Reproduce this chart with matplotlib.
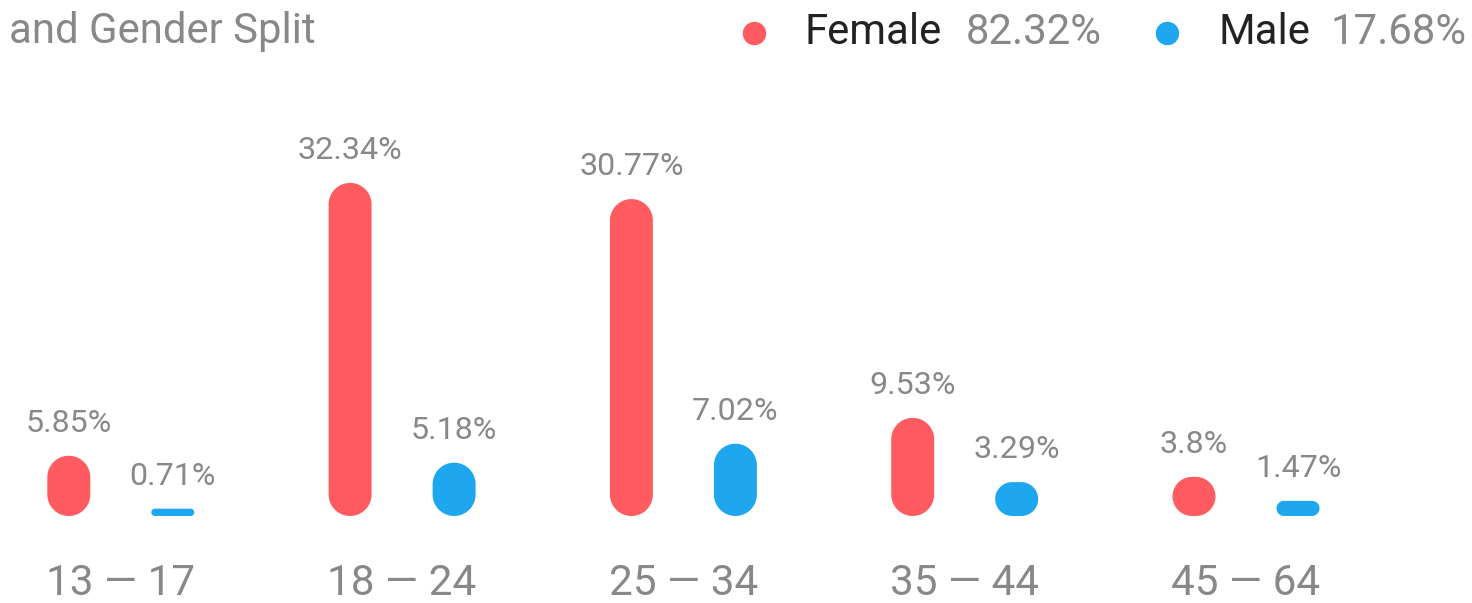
import matplotlib
matplotlib.use('Agg')
import matplotlib.pyplot as plt
from matplotlib.patches import Polygon
from matplotlib.lines import Line2D
import numpy as np

# ---- data ----
age_groups = ["13 \u2014 17", "18 \u2014 24", "25 \u2014 34", "35 \u2014 44", "45 \u2014 64"]
female = [5.85, 32.34, 30.77, 9.53, 3.8]
male = [0.71, 5.18, 7.02, 3.29, 1.47]
series_names = ["Female", "Male"]
series_totals = ["82.32%", "17.68%"]
title = "and Gender Split"

# ---- style ----
RED = "#FF5B60"
BLUE = "#1EA7EE"
GRAY = "#888888"
DARK = "#222222"

plt.rcParams['font.family'] = ['Roboto', 'DejaVu Sans']

W, H = 1472, 603
fig = plt.figure(figsize=(W / 100, H / 100), dpi=100)
fig.patch.set_facecolor("white")

# axes placement (pixel based)
px_per_unit = 281.3
first_center = 120.8
xlo, xhi = -0.4, 4.6
left_px = first_center + xlo * px_per_unit
width_px = (xhi - xlo) * px_per_unit
base_px = 516
ymax = 40
px_per_pct = 10.30
height_px = ymax * px_per_pct
ax = fig.add_axes([left_px / W, (H - base_px) / H, width_px / W, height_px / H])
ax.set_xlim(xlo, xhi)
ax.set_ylim(0, ymax)
ax.axis("off")

# pixel scale of data units (for true circular caps)
p0 = ax.transData.transform((0, 0))
p1 = ax.transData.transform((1, 1))
ppx = p1[0] - p0[0]
ppy = p1[1] - p0[1]

bar_w = 43 / px_per_unit
off = 52 / px_per_unit


def rbar(x, h, color):
    w_px = bar_w * ppx
    h_px = h * ppy
    r_px = min(w_px / 2, h_px / 2)
    rx = r_px / ppx
    ry = r_px / ppy
    t = np.linspace(0, np.pi / 2, 20)
    x0, x1 = x - bar_w / 2, x + bar_w / 2
    pts = []
    cx, cy = x1 - rx, ry
    pts += list(zip(cx + rx * np.sin(t), cy - ry * np.cos(t)))
    cx, cy = x1 - rx, h - ry
    pts += list(zip(cx + rx * np.cos(t), cy + ry * np.sin(t)))
    cx, cy = x0 + rx, h - ry
    pts += list(zip(cx - rx * np.sin(t), cy + ry * np.cos(t)))
    cx, cy = x0 + rx, ry
    pts += list(zip(cx - rx * np.cos(t), cy - ry * np.sin(t)))
    ax.add_patch(Polygon(pts, closed=True, fc=color, ec="none", antialiased=True))


for i, (f, m) in enumerate(zip(female, male)):
    for x, v, c in ((i - off, f, RED), (i + off, m, BLUE)):
        rbar(x, v, c)
        ax.annotate(f"{v:g}%", (x, v), xytext=(0, 24 * 0.72),
                    textcoords="offset points", ha="center", va="baseline",
                    fontsize=23.2, color=GRAY, annotation_clip=False)
    ax.annotate(age_groups[i], (i, 0), xytext=(0, -79 * 0.72),
                textcoords="offset points", ha="center", va="baseline",
                fontsize=30.4, color=GRAY, annotation_clip=False)

# title (cropped upper part)
fig.text(9 / W, 1 - 43 / H, title, fontsize=30.2, color=GRAY,
         ha="left", va="baseline")

# legend
legend_items = [
    (754, 804, 966, RED),
    (1167, 1218, 1330, BLUE),
]
for (dot_x, name_x, tot_x, col), name, tot in zip(legend_items, series_names, series_totals):
    fig.add_artist(Line2D([dot_x / W], [1 - 33 / H], marker="o", markersize=22 * 0.72,
                          color=col, linestyle="none", transform=fig.transFigure))
    fig.text(name_x / W, 1 - 44 / H, name, fontsize=30.2, color=DARK,
             ha="left", va="baseline")
    fig.text(tot_x / W, 1 - 44 / H, tot, fontsize=30.2, color=GRAY,
             ha="left", va="baseline")

fig.savefig("out.png", dpi=100, facecolor="white")
